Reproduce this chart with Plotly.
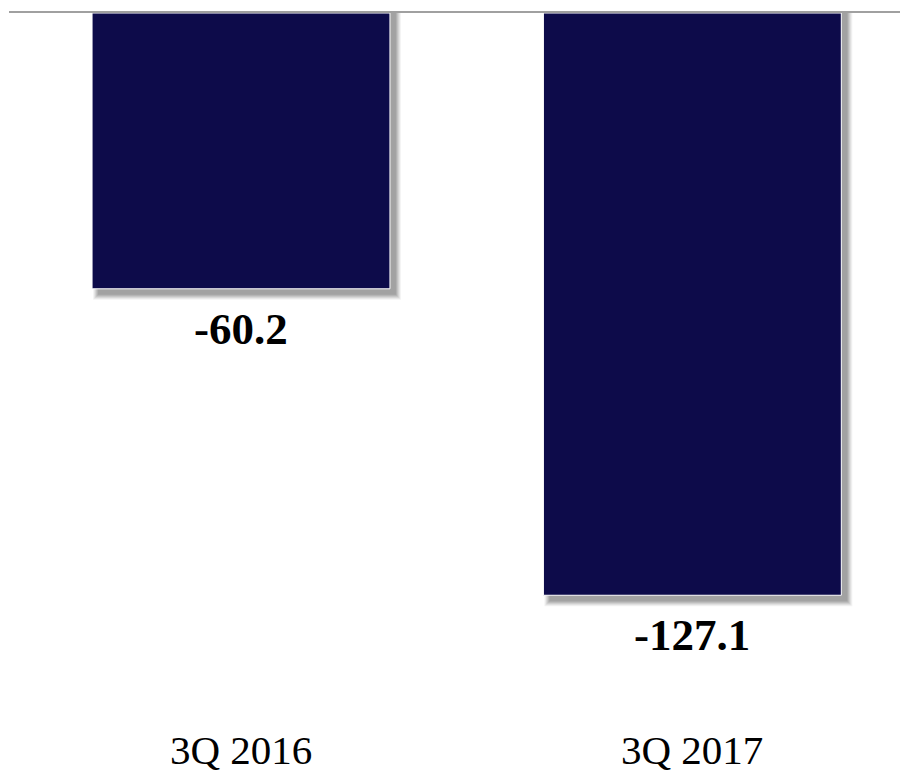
import plotly.graph_objects as go

# Quarterly result (values shown on the bars)
categories = ["3Q 2016", "3Q 2017"]
values = [-60.2, -127.1]
value_labels = ["-60.2", "-127.1"]

BAR_COLOR = "#0D0B4A"
SHADOW_COLOR = "#8c8c8c"
FONT = "Liberation Serif, Times New Roman, serif"

W, H = 900, 773
M_L, M_R, M_T, M_B = 9, 0, 13, 60
X_RANGE = [-0.514, 1.46]
Y_RANGE = [-152.8, 0]
BAR_W = 0.66

plot_w = W - M_L - M_R
plot_h = H - M_T - M_B
px_x = (X_RANGE[1] - X_RANGE[0]) / plot_w   # data units per pixel (x)
px_y = (Y_RANGE[1] - Y_RANGE[0]) / plot_h   # data units per pixel (y)

fig = go.Figure()

# Soft drop shadow: layered translucent bars shifted right/down
dx, dy = 6, 6
for spread, alpha in [(5, 0.10), (4, 0.14), (3, 0.18), (2, 0.24), (1, 0.30), (0, 0.38)]:
    w = BAR_W + 2 * spread * px_x
    fig.add_trace(go.Bar(
        x=list(range(len(categories))),
        y=[v - (dy + spread) * px_y for v in values],
        base=0,
        width=w,
        offset=-w / 2 + dx * px_x,
        marker=dict(color=SHADOW_COLOR, opacity=alpha, line=dict(width=0)),
        hoverinfo="skip",
        showlegend=False,
    ))

fig.add_trace(go.Bar(
    x=list(range(len(categories))),
    y=values,
    base=0,
    width=BAR_W,
    marker=dict(color=BAR_COLOR, line=dict(color="white", width=1)),
    showlegend=False,
))

# Value labels under each bar
for i, (v, t) in enumerate(zip(values, value_labels)):
    fig.add_annotation(
        x=i, y=v, xref="x", yref="y", text=f"<b>{t}</b>",
        showarrow=False, yanchor="middle", yshift=-40,
        font=dict(family=FONT, size=45, color="black"),
    )

# Category labels along the bottom
for i, c in enumerate(categories):
    fig.add_annotation(
        x=i, y=0, xref="x", yref="paper", text=c,
        showarrow=False, yanchor="middle", yshift=-37,
        font=dict(family=FONT, size=41, color="black"),
    )

fig.update_layout(
    width=W, height=H,
    margin=dict(l=M_L, r=M_R, t=M_T, b=M_B),
    barmode="overlay",
    plot_bgcolor="white", paper_bgcolor="white",
    xaxis=dict(range=X_RANGE, side="top", showline=True, linecolor="#a0a0a0",
               linewidth=2, showgrid=False, zeroline=False,
               showticklabels=False, ticks=""),
    yaxis=dict(range=Y_RANGE, showgrid=False, zeroline=False,
               showticklabels=False, ticks="", showline=False),
)

fig.write_html("out.html")
